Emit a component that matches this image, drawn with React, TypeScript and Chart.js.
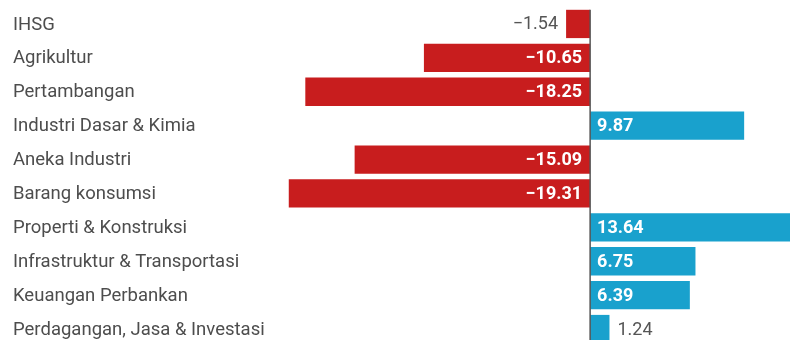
import React, { useEffect, useRef } from "react";
import { Chart, registerables } from "chart.js";

Chart.register(...registerables);

const categories = [
  "IHSG",
  "Agrikultur",
  "Pertambangan",
  "Industri Dasar & Kimia",
  "Aneka Industri",
  "Barang konsumsi",
  "Properti & Konstruksi",
  "Infrastruktur & Transportasi",
  "Keuangan Perbankan",
  "Perdagangan, Jasa & Investasi",
];

const values = [-1.54, -10.65, -18.25, 9.87, -15.09, -19.31, 13.64, 6.75, 6.39, 1.24];

const RED = "rgb(200,29,30)";
const BLUE = "rgb(25,161,205)";
const FONT = "Roboto, 'Noto Sans', sans-serif";

const fmt = (v: number) => (v < 0 ? "\u2212" + Math.abs(v).toFixed(2) : v.toFixed(2));

const labelPlugin = {
  id: "valueLabels",
  afterDatasetsDraw(chart: any) {
    const ctx = chart.ctx;
    const meta = chart.getDatasetMeta(0);
    const xs = chart.scales.x;
    const ys = chart.scales.y;
    const zero = xs.getPixelForValue(0);
    ctx.save();
    ctx.font = `18.5px ${FONT}`;
    ctx.fillStyle = "#4d4d4d";
    ctx.textAlign = "left";
    ctx.textBaseline = "middle";
    categories.forEach((c, i) => {
      ctx.fillText(c, 13, ys.getPixelForValue(i) + 1);
    });
    meta.data.forEach((bar: any, i: number) => {
      const v = values[i];
      const text = fmt(v);
      const w = Math.abs(bar.x - bar.base);
      ctx.font = `bold 18px ${FONT}`;
      const tw = ctx.measureText(text).width;
      ctx.textBaseline = "middle";
      const y = bar.y + 1;
      if (w > tw + 14) {
        ctx.fillStyle = "#ffffff";
        if (v < 0) {
          ctx.textAlign = "right";
          ctx.fillText(text, zero - 8, y);
        } else {
          ctx.textAlign = "left";
          ctx.fillText(text, zero + 7, y);
        }
      } else {
        ctx.font = `18px ${FONT}`;
        ctx.fillStyle = "#555555";
        if (v < 0) {
          ctx.textAlign = "right";
          ctx.fillText(text, bar.x - 8, y);
        } else {
          ctx.textAlign = "left";
          ctx.fillText(text, bar.x + 8, y);
        }
      }
    });
    const first = meta.data[0];
    const top = first.y - first.height / 2;
    ctx.strokeStyle = "#555555";
    ctx.lineWidth = 1.5;
    ctx.beginPath();
    ctx.moveTo(zero, top);
    ctx.lineTo(zero, chart.chartArea.bottom + 10);
    ctx.stroke();
    ctx.restore();
  },
};

export default function App() {
  const ref = useRef<HTMLCanvasElement | null>(null);
  useEffect(() => {
    if (!ref.current) return;
    const chart = new Chart(ref.current, {
      type: "bar",
      data: {
        labels: categories,
        datasets: [
          {
            data: values,
            backgroundColor: values.map((v) => (v < 0 ? RED : BLUE)),
            borderWidth: 0,
            categoryPercentage: 1,
            barPercentage: 0.835,
          },
        ],
      },
      options: {
        indexAxis: "y",
        responsive: false,
        animation: false,
        events: [],
        layout: { padding: { left: 278, right: 7, top: 7, bottom: 4 } },
        plugins: { legend: { display: false }, tooltip: { enabled: false } },
        scales: {
          x: { display: false, min: -20, max: 13 },
          y: { display: false },
        },
      },
      plugins: [labelPlugin],
    });
    return () => chart.destroy();
  }, []);
  return (
    <div style={{ position: "fixed", left: 0, top: 0, width: 790, height: 340, overflow: "hidden", background: "#fff" }}>
      <canvas ref={ref} width={800} height={350} style={{ display: "block" }} />
    </div>
  );
}
